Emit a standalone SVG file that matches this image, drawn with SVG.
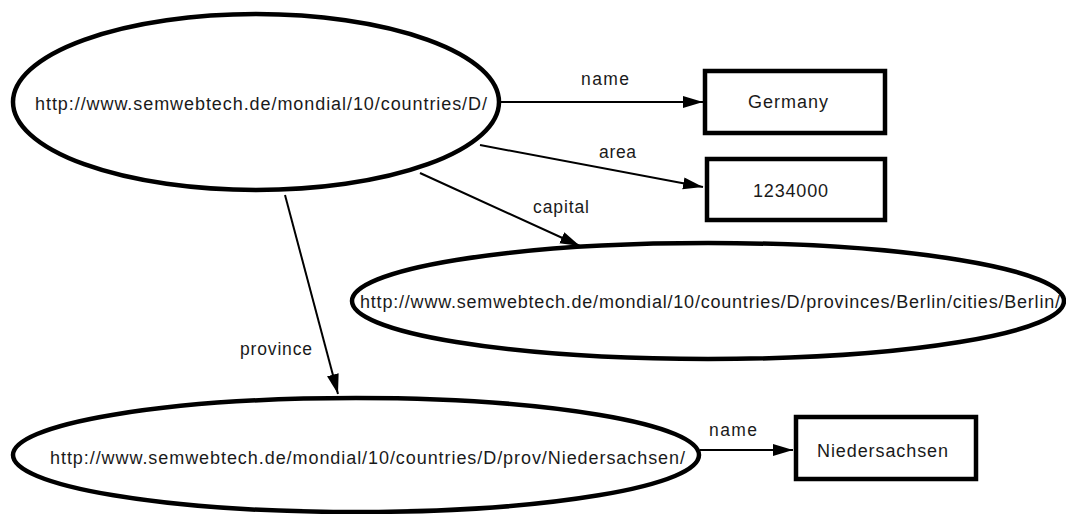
<svg xmlns="http://www.w3.org/2000/svg" width="1066" height="514" viewBox="0 0 1066 514">
<style>
.node{fill:#fff;stroke:#000;stroke-width:4.5}
.box{fill:#fff;stroke:#000;stroke-width:4.5}
.t{font-family:"Liberation Sans",Arial,sans-serif;font-size:18px;fill:#1a1a1a}
.lbl{font-family:"Liberation Sans",Arial,sans-serif;font-size:17.5px;fill:#1a1a1a}
.edge{stroke:#000;stroke-width:2;fill:none;marker-end:url(#arr)}
</style>
<defs>
<marker id="arr" markerUnits="userSpaceOnUse" markerWidth="22" markerHeight="14" refX="20" refY="6" orient="auto">
<path d="M0,0 L20,6 L0,12 z" fill="#000"/>
</marker>
</defs>
<rect width="1066" height="514" fill="#fff"/>
<g id="connectors">
<line class="edge" x1="499" y1="102" x2="703" y2="102"/>
<line class="edge" x1="480" y1="145" x2="703" y2="187"/>
<line class="edge" x1="420" y1="173" x2="580" y2="246"/>
<line class="edge" x1="285" y1="195" x2="338" y2="394"/>
<line class="edge" x1="700" y1="450" x2="793" y2="450"/>
<text class="lbl" x="581" y="85" textLength="48" lengthAdjust="spacing">name</text>
<text class="lbl" x="599" y="158" textLength="37" lengthAdjust="spacing">area</text>
<text class="lbl" x="533" y="213" textLength="56" lengthAdjust="spacing">capital</text>
<text class="lbl" x="240" y="355" textLength="72" lengthAdjust="spacing">province</text>
<text class="lbl" x="709" y="436" textLength="48" lengthAdjust="spacing">name</text>
</g>
<g id="country">
<ellipse class="node" cx="256" cy="102" rx="243" ry="88"/>
<text class="t" x="35" y="110" textLength="452" lengthAdjust="spacing">http://www.semwebtech.de/mondial/10/countries/D/</text>
</g>
<g id="germany">
<rect class="box" x="705" y="71" width="180" height="62"/>
<text class="t" x="748" y="108" textLength="80" lengthAdjust="spacing">Germany</text>
</g>
<g id="area">
<rect class="box" x="707" y="159" width="178" height="61"/>
<text class="t" x="753" y="197" textLength="75" lengthAdjust="spacing">1234000</text>
</g>
<g id="berlin">
<ellipse class="node" cx="708" cy="301" rx="356" ry="58"/>
<text class="t" x="360" y="308" textLength="700" lengthAdjust="spacing">http://www.semwebtech.de/mondial/10/countries/D/provinces/Berlin/cities/Berlin/</text>
</g>
<g id="niedersachsen-uri">
<ellipse class="node" cx="356" cy="455" rx="343" ry="57"/>
<text class="t" x="50" y="464" textLength="635" lengthAdjust="spacing">http://www.semwebtech.de/mondial/10/countries/D/prov/Niedersachsen/</text>
</g>
<g id="niedersachsen">
<rect class="box" x="796" y="417" width="180" height="62"/>
<text class="t" x="817" y="457" textLength="131" lengthAdjust="spacing">Niedersachsen</text>
</g>
</svg>
